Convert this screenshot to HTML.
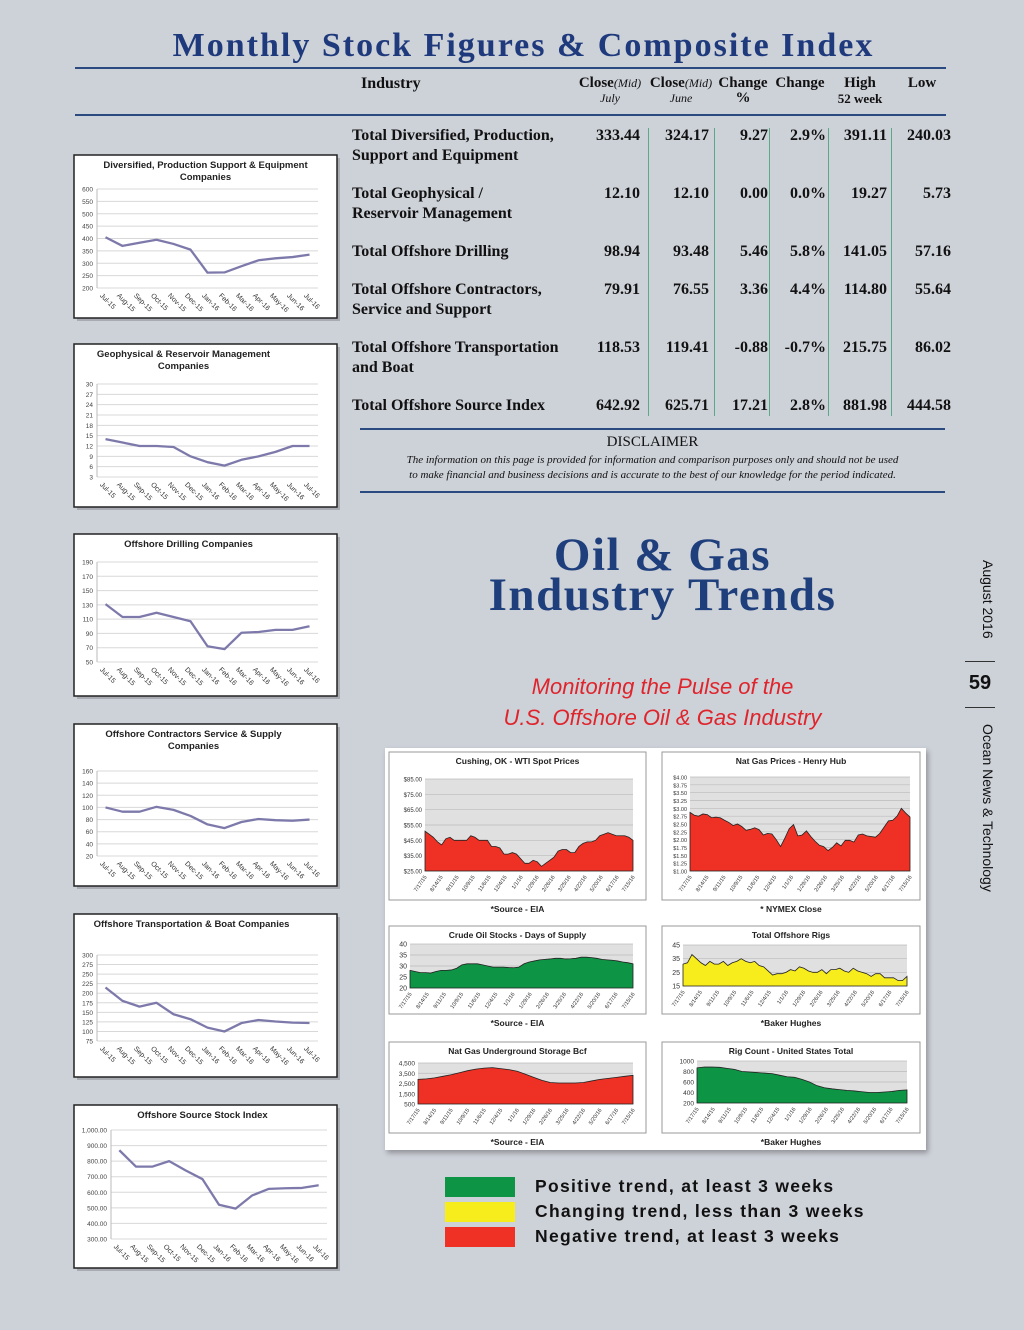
<!DOCTYPE html>
<html><head><meta charset="utf-8">
<style>
html,body{margin:0;padding:0}
body{width:1024px;height:1330px;background:#cdd1d8;position:relative;overflow:hidden;font-family:"Liberation Serif",serif;color:#111}
.a{position:absolute;margin:0}
.hd{font-weight:bold;font-size:15px;text-align:center;line-height:15px}
.hd i{font-weight:normal;font-size:12px}
.row{position:absolute;left:352px;font-weight:bold;font-size:16px;line-height:20px;white-space:nowrap}
.num{position:absolute;font-weight:bold;font-size:16px;text-align:right;width:70px;line-height:20px}
.leg{position:absolute;left:535px;font-family:"Liberation Sans",sans-serif;font-weight:bold;font-size:17.5px;letter-spacing:1.3px;line-height:20px;white-space:nowrap}
.sw{position:absolute;left:445px;width:70px;height:20px}
</style></head><body>
<div class="a" style="left:50px;width:947px;top:27px;text-align:center;font-size:34px;font-weight:bold;color:#1f3a7c;letter-spacing:2px">Monthly Stock Figures &amp; Composite Index</div>
<div class="a" style="left:75px;top:67px;width:871px;height:2px;background:#2a4a80"></div>
<div class="a" style="left:75px;top:114px;width:871px;height:2px;background:#2a4a80"></div>
<div class="a hd" style="left:361px;top:76px;font-size:16px">Industry</div>
<div class="a hd" style="left:575px;top:76px;width:70px">Close<i>(Mid)</i><br><i>July</i></div>
<div class="a hd" style="left:646px;top:76px;width:70px">Close<i>(Mid)</i><br><i>June</i></div>
<div class="a hd" style="left:713px;top:76px;width:60px">Change<br>%</div>
<div class="a hd" style="left:770px;top:76px;width:60px">Change</div>
<div class="a hd" style="left:830px;top:76px;width:60px">High<br><span style="font-size:13px">52 week</span></div>
<div class="a hd" style="left:892px;top:76px;width:60px">Low</div>
<div id="tbl"></div>
<div class="a" style="left:360px;top:428px;width:585px;height:2px;background:#2a4a80"></div>
<div class="a" style="left:360px;width:585px;top:434px;text-align:center;font-size:15px">DISCLAIMER</div>
<div class="a" style="left:360px;width:585px;top:453px;text-align:center;font-size:11px;font-style:italic;line-height:15px">The information on this page is provided for information and comparison purposes only and should not be used<br>to make financial and business decisions and is accurate to the best of our knowledge for the period indicated.</div>
<div class="a" style="left:360px;top:491px;width:585px;height:2px;background:#2a4a80"></div>
<div class="a" style="left:440px;width:445px;top:535px;text-align:center;font-size:47px;font-weight:bold;color:#1f3f7c;line-height:40px;letter-spacing:1.5px">Oil &amp; Gas<br>Industry Trends</div>
<div class="a" style="left:440px;width:445px;top:671px;text-align:center;font-family:'Liberation Sans',sans-serif;font-style:italic;font-size:22px;color:#e0242c;line-height:31px">Monitoring the Pulse of the<br>U.S. Offshore Oil &amp; Gas Industry</div>
<div class="a" style="left:982px;top:560px;transform-origin:0 0;transform:rotate(90deg) translate(0,-14px);font-family:'Liberation Sans',sans-serif;font-size:14px;white-space:nowrap">August 2016</div>
<div class="a" style="left:965px;top:661px;width:30px;height:1px;background:#333"></div>
<div class="a" style="left:960px;width:40px;top:672px;text-align:center;font-family:'Liberation Sans',sans-serif;font-weight:bold;font-size:20px">59</div>
<div class="a" style="left:965px;top:707px;width:30px;height:1px;background:#333"></div>
<div class="a" style="left:982px;top:724px;transform-origin:0 0;transform:rotate(90deg) translate(0,-14px);font-family:'Liberation Sans',sans-serif;font-size:14px;white-space:nowrap">Ocean News &amp; Technology</div>
<div class="a" style="left:385px;top:748px;width:541px;height:402px;background:#fff;box-shadow:2px 3px 5px rgba(0,0,0,.3)"></div>
<div class="sw" style="top:1177px;background:#0d9444"></div>
<div class="sw" style="top:1202px;background:#f7ec1c"></div>
<div class="sw" style="top:1227px;background:#ee3124"></div>
<div class="leg" style="top:1176px">Positive trend, at least 3 weeks</div>
<div class="leg" style="top:1201px">Changing trend, less than 3 weeks</div>
<div class="leg" style="top:1226px">Negative trend, at least 3 weeks</div>
<svg id="sv" class="a" style="left:0;top:0" width="1024" height="1330"></svg>
<script>
// ---- table data ----
const rowLabels=[["Total Diversified, Production,","Support and Equipment"],["Total Geophysical /","Reservoir Management"],["Total Offshore Drilling"],["Total Offshore Contractors,","Service and Support"],["Total Offshore Transportation","and Boat"],["Total Offshore Source Index"]];
const closeJuly=["333.44","12.10","98.94","79.91","118.53","642.92"];
const closeJune=["324.17","12.10","93.48","76.55","119.41","625.71"];
const changeVal=["9.27","0.00","5.46","3.36","-0.88","17.21"];
const changePct=["2.9%","0.0%","5.8%","4.4%","-0.7%","2.8%"];
const high52=["391.11","19.27","141.05","114.80","215.75","881.98"];
const low52=["240.03","5.73","57.16","55.64","86.02","444.58"];
// ---- left line charts data ----
const months=["Jul-15","Aug-15","Sep-15","Oct-15","Nov-15","Dec-15","Jan-16","Feb-16","Mar-16","Apr-16","May-16","Jun-16","Jul-16"];
const divValues=[405,370,383,395,378,355,262,263,288,312,320,325,335];
const divTicks=[200,250,300,350,400,450,500,550,600];
const geoValues=[14,13,12,12,11.7,9,7.3,6.3,8,9,10.3,12,12];
const geoTicks=[3,6,9,12,15,18,21,24,27,30];
const drillValues=[131,113,113,119,113,107,72,68,91,92,95,95,100];
const drillTicks=[50,70,90,110,130,150,170,190];
const contrValues=[100,93,93,101,96,86,72,66,76,81,79,78,80];
const contrTicks=[20,40,60,80,100,120,140,160];
const transValues=[215,180,165,175,145,132,110,100,122,130,126,123,122];
const transTicks=[75,100,125,150,175,200,225,250,275,300];
const indexValues=[870,765,765,800,740,685,520,495,580,622,626,628,645];
const indexTicks=[300,400,500,600,700,800,900,1000];
// ---- area charts data ----
const dateLabels=["7/17/15","8/14/15","9/11/15","10/9/15","11/6/15","12/4/15","1/1/16","1/29/16","2/26/16","3/25/16","4/22/16","5/20/16","6/17/16","7/15/16"];
const wtiValues=[51,49,47,44,42,46,47,45,45,45,45,48,47,45,45,45,41,41,40,36,36,37,36,33,30,30,32,31,28,30,32,34,38,39,39,37,37,41,43,44,44,45,48,49,50,49,48,48,48,47,45];
const wtiTicks=[25,35,45,55,65,75,85];
const hhValues=[2.87,2.78,2.75,2.82,2.80,2.70,2.72,2.70,2.62,2.55,2.45,2.50,2.42,2.30,2.33,2.38,2.32,2.15,2.20,2.18,2.0,1.78,2.05,2.35,2.48,2.12,2.15,2.28,2.10,1.95,1.82,1.78,1.65,1.75,1.90,1.80,1.98,1.98,1.92,2.15,2.18,2.12,2.10,2.08,2.20,2.40,2.60,2.62,2.75,3.0,2.85,2.72];
const hhTicks=[1.00,1.25,1.50,1.75,2.00,2.25,2.50,2.75,3.00,3.25,3.50,3.75,4.00];
const crudeValues=[28,27.5,27,27,26.8,27.5,28,28,28.2,29,30.5,31,31,31,30.5,30,29.5,29.5,29.5,29.3,29.2,29.5,31,31.8,32.3,32.8,33,33.2,33.5,33.5,33.2,33.3,33.5,34,34,33.8,33.5,33,32.8,32.6,32.3,31.8,31.5,31];
const crudeTicks=[20,25,30,35,40];
const rigsValues=[31,32,38,35,32,30,33,31,31,33,30,32,33,35,33,32,33,30,29,26,23,24,24,25,27,26,29,28,26,25,25,27,24,27,27,28,26,25,28,26,25,24,22,24,24,21,21,21,19,19,22];
const rigsTicks=[15,25,35,45];
const storageValues=[2900,2950,3050,3200,3350,3550,3750,3900,4000,4050,3950,3850,3700,3400,3100,2800,2600,2550,2550,2550,2600,2750,2900,3000,3100,3200,3300];
const storageTicks=[500,1500,2500,3500,4500];
const storageTickLabels=["500","1,500","2,500","3,500","4,500"];
const rigCountValues=[870,885,885,880,860,840,800,790,780,770,760,730,700,690,650,600,530,490,470,455,440,430,415,400,400,410,420,440,450];
const rigCountTicks=[200,400,600,800,1000];

const NS="http://www.w3.org/2000/svg";
const sv=document.getElementById('sv');
function el(tag,attrs,parent,txt){const e=document.createElementNS(NS,tag);for(const k in attrs)e.setAttribute(k,attrs[k]);if(txt!==undefined)e.textContent=txt;(parent||sv).appendChild(e);return e;}

// table
const tbl=document.getElementById('tbl');
const rowTops=[126,184,242,280,338,396];
const colRights=[640,709,768,826,887,951];
const cols=[closeJuly,closeJune,changeVal,changePct,high52,low52];
rowLabels.forEach((lbl,i)=>{
  const d=document.createElement('div');d.className='row';d.style.top=rowTops[i]+'px';d.innerHTML=lbl.join('<br>');
  
  
  tbl.appendChild(d);
  cols.forEach((c,j)=>{const n=document.createElement('div');n.className='num';n.style.top=rowTops[i]+'px';n.style.left=(colRights[j]-70)+'px';n.textContent=c[i];
    
    
    tbl.appendChild(n);});
});
[648,714,769,828,891].forEach((x,i)=>{const l=document.createElement('div');l.className='a';l.style.cssText='left:'+x+'px;top:128px;width:1px;height:288px;background:#5aaa8a';
  
  
  tbl.appendChild(l);});

// line charts
function lineChart(name,box,title,plot,values,ticks,fmt){
  const g=el('g',{});
  
  
  el('rect',{x:box[0]+3,y:box[1]+3,width:box[2],height:box[3],fill:'rgba(0,0,0,0.18)'},g);
  el('rect',{x:box[0],y:box[1],width:box[2],height:box[3],fill:'#fff',stroke:'#222','stroke-width':1.5},g);
  title.forEach((t,k)=>{el('text',{x:box[0]+box[2]/2+(plot.tdx||0),y:box[1]+13+k*12,'text-anchor':'middle','font-family':'Liberation Sans,sans-serif','font-weight':'bold','font-size':9.5,fill:'#222'},g,t);});
  const [x0,x1,yt,yb]=[plot.x0,plot.x1,plot.top,plot.bot];
  const mn=ticks[0],mx=ticks[ticks.length-1];
  const Y=v=>yb-(v-mn)/(mx-mn)*(yb-yt);
  const step=(x1-x0)/values.length;
  const X=i=>x0+(i+0.5)*step;
  ticks.forEach(t=>{el('line',{x1:x0,x2:x1,y1:Y(t),y2:Y(t),stroke:'#d8d8d8','stroke-width':1},g);
    el('text',{x:x0-4,y:Y(t)+2.5,'text-anchor':'end','font-family':'Liberation Sans,sans-serif','font-size':6.5,fill:'#444'},g,fmt?fmt(t):t);});
  el('line',{x1:x0,x2:x0,y1:yt,y2:yb,stroke:'#bbb'},g);
  months.forEach((m,i)=>{const lx=X(i)-6,ly=yb+8;el('text',{x:lx,y:ly,'text-anchor':'start',transform:`rotate(45 ${lx} ${ly})`,'font-family':'Liberation Sans,sans-serif','font-size':7,fill:'#333'},g,m);});
  const p=el('polyline',{points:values.map((v,i)=>X(i)+','+Y(v)).join(' '),fill:'none',stroke:'#7d7aab','stroke-width':2.3,'stroke-linejoin':'round'},g);
  
  
}
lineChart('chart-diversified',[74,155,263,163],["Diversified, Production Support & Equipment","Companies"],{x0:97,x1:318,top:189,bot:288},divValues,divTicks);
lineChart('chart-geophysical',[74,344,263,163],["Geophysical & Reservoir Management","Companies"],{x0:97,x1:318,top:384,bot:477,tdx:-22},geoValues,geoTicks);
lineChart('chart-drilling',[74,534,263,162],["Offshore Drilling Companies"],{x0:97,x1:318,top:562,bot:662,tdx:-17},drillValues,drillTicks);
lineChart('chart-contractors',[74,724,263,162],["Offshore Contractors Service & Supply","Companies"],{x0:97,x1:318,top:771,bot:856,tdx:-12},contrValues,contrTicks);
lineChart('chart-transportation',[74,914,263,163],["Offshore Transportation & Boat Companies"],{x0:97,x1:318,top:955,bot:1041,tdx:-14},transValues,transTicks);
lineChart('chart-source-index',[74,1105,263,163],["Offshore Source Stock Index"],{x0:111,x1:327,top:1130,bot:1239,tdx:-3},indexValues,indexTicks,t=>t.toLocaleString('en-US',{minimumFractionDigits:2}));

// area charts
function areaChart(name,box,title,src,plot,values,ticks,labels,color){
  const g=el('g',{});
  
  
  el('rect',{x:box[0],y:box[1],width:box[2],height:box[3],fill:'#fff',stroke:'#999','stroke-width':1},g);
  el('text',{x:box[0]+box[2]/2,y:box[1]+12,'text-anchor':'middle','font-family':'Liberation Sans,sans-serif','font-weight':'bold','font-size':8.5,fill:'#222'},g,title);
  el('text',{x:box[0]+box[2]/2,y:box[1]+box[3]+12,'text-anchor':'middle','font-family':'Liberation Sans,sans-serif','font-weight':'bold','font-size':8.5,fill:'#222'},g,src);
  const [x0,x1,yt,yb]=[plot.x0,plot.x1,plot.top,plot.bot];
  el('rect',{x:x0,y:yt,width:x1-x0,height:yb-yt,fill:'#e0e0e0'},g);
  const mn=ticks[0],mx=ticks[ticks.length-1];
  const Y=v=>yb-(v-mn)/(mx-mn)*(yb-yt);
  const X=i=>x0+i*(x1-x0)/(values.length-1);
  ticks.forEach((t,k)=>{el('line',{x1:x0,x2:x1,y1:Y(t),y2:Y(t),stroke:'#bbb','stroke-width':0.7},g);
    el('text',{x:x0-3,y:Y(t)+2.5,'text-anchor':'end','font-family':'Liberation Sans,sans-serif','font-size':plot.fs||6,fill:'#333'},g,labels?labels[k]:t);});
  const pts=values.map((v,i)=>X(i)+','+Y(v)).join(' ');
  const a=el('polygon',{points:x0+','+yb+' '+pts+' '+x1+','+yb,fill:color,stroke:'#222','stroke-width':0.8},g);
  
  
  const n=dateLabels.length;
  dateLabels.forEach((d,i)=>{const x=x0+i*(x1-x0)/(n-1);el('text',{x:x+2,y:yb+6,'text-anchor':'end',transform:`rotate(-55 ${x+2} ${yb+6})`,'font-family':'Liberation Sans,sans-serif','font-size':5.5,fill:'#333'},g,d);});
}
const m=t=>'$'+t.toFixed(2);
areaChart('chart-wti',[389,752,257,148],"Cushing, OK  - WTI Spot Prices","*Source - EIA",{x0:425,x1:633,top:779,bot:871},wtiValues,wtiTicks,wtiTicks.map(m),'#ee3124');
areaChart('chart-henry-hub',[662,752,258,148],"Nat Gas Prices - Henry Hub","* NYMEX Close",{x0:690,x1:910,top:777,bot:871,fs:5.5},hhValues,hhTicks,hhTicks.map(m),'#ee3124');
areaChart('chart-crude-stocks',[389,926,257,88],"Crude Oil Stocks - Days of Supply","*Source - EIA",{x0:410,x1:633,top:944,bot:988,fs:7},crudeValues,crudeTicks,null,'#0d9444');
areaChart('chart-offshore-rigs',[662,926,258,88],"Total Offshore Rigs","*Baker Hughes",{x0:683,x1:907,top:945,bot:986,fs:7},rigsValues,rigsTicks,null,'#f7ec1c');
areaChart('chart-gas-storage',[389,1042,257,91],"Nat Gas Underground Storage Bcf","*Source - EIA",{x0:418,x1:633,top:1063,bot:1104,fs:6.5},storageValues,storageTicks,storageTickLabels,'#ee3124');
areaChart('chart-rig-count',[662,1042,258,91],"Rig Count - United States Total","*Baker Hughes",{x0:697,x1:907,top:1061,bot:1103,fs:6.5},rigCountValues,rigCountTicks,null,'#0d9444');
</script>
</body></html>
